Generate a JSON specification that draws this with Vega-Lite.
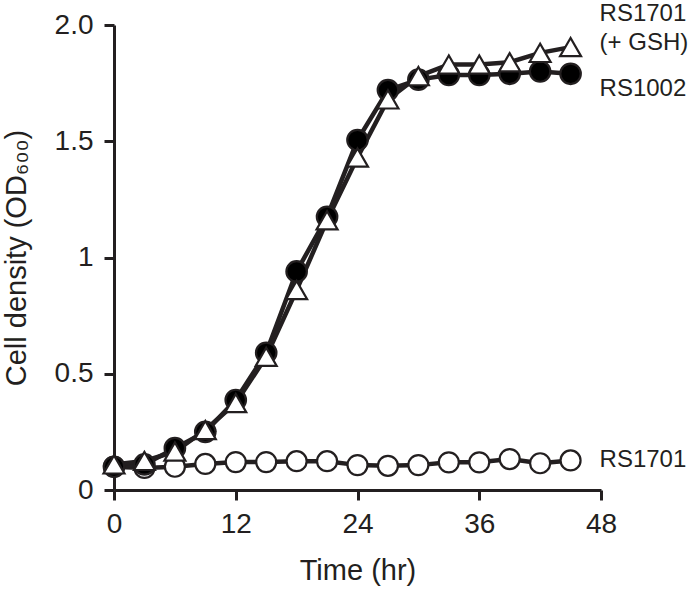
{
  "$schema": "https://vega.github.io/schema/vega-lite/v6.json",
  "width": 487,
  "height": 465,
  "autosize": {"type": "none"},
  "padding": {"left": 114, "top": 25, "right": 99, "bottom": 104},
  "background": "white",
  "config": {
    "view": {"stroke": null},
    "font": "Liberation Sans",
    "axis": {
      "domainColor": "#231f20",
      "domainWidth": 3,
      "tickColor": "#231f20",
      "tickWidth": 3,
      "tickSize": 10,
      "grid": false,
      "labelFlush": false,
      "labelOverlap": false,
      "labelColor": "#231f20",
      "labelFontSize": 28,
      "labelFont": "Liberation Sans",
      "titleColor": "#231f20",
      "titleFont": "Liberation Sans",
      "titleFontSize": 29,
      "titleFontWeight": "normal"
    }
  },
  "datasets": {
    "growth": [
      {"series": "RS1701", "time": 0, "od": 0.10},
      {"series": "RS1701", "time": 3, "od": 0.095},
      {"series": "RS1701", "time": 6, "od": 0.10},
      {"series": "RS1701", "time": 9, "od": 0.112},
      {"series": "RS1701", "time": 12, "od": 0.12},
      {"series": "RS1701", "time": 15, "od": 0.12},
      {"series": "RS1701", "time": 18, "od": 0.124},
      {"series": "RS1701", "time": 21, "od": 0.124},
      {"series": "RS1701", "time": 24, "od": 0.107},
      {"series": "RS1701", "time": 27, "od": 0.104},
      {"series": "RS1701", "time": 30, "od": 0.107},
      {"series": "RS1701", "time": 33, "od": 0.119},
      {"series": "RS1701", "time": 36, "od": 0.119},
      {"series": "RS1701", "time": 39, "od": 0.133},
      {"series": "RS1701", "time": 42, "od": 0.115},
      {"series": "RS1701", "time": 45, "od": 0.127},
      {"series": "RS1002", "time": 0, "od": 0.10},
      {"series": "RS1002", "time": 3, "od": 0.11},
      {"series": "RS1002", "time": 6, "od": 0.18},
      {"series": "RS1002", "time": 9, "od": 0.25},
      {"series": "RS1002", "time": 12, "od": 0.387},
      {"series": "RS1002", "time": 15, "od": 0.59},
      {"series": "RS1002", "time": 18, "od": 0.94},
      {"series": "RS1002", "time": 21, "od": 1.175},
      {"series": "RS1002", "time": 24, "od": 1.505},
      {"series": "RS1002", "time": 27, "od": 1.72},
      {"series": "RS1002", "time": 30, "od": 1.765},
      {"series": "RS1002", "time": 33, "od": 1.785},
      {"series": "RS1002", "time": 36, "od": 1.785},
      {"series": "RS1002", "time": 39, "od": 1.79},
      {"series": "RS1002", "time": 42, "od": 1.80},
      {"series": "RS1002", "time": 45, "od": 1.79},
      {"series": "RS1701 (+ GSH)", "time": 0, "od": 0.11},
      {"series": "RS1701 (+ GSH)", "time": 3, "od": 0.125},
      {"series": "RS1701 (+ GSH)", "time": 6, "od": 0.165},
      {"series": "RS1701 (+ GSH)", "time": 9, "od": 0.258},
      {"series": "RS1701 (+ GSH)", "time": 12, "od": 0.374},
      {"series": "RS1701 (+ GSH)", "time": 15, "od": 0.573},
      {"series": "RS1701 (+ GSH)", "time": 18, "od": 0.86},
      {"series": "RS1701 (+ GSH)", "time": 21, "od": 1.16},
      {"series": "RS1701 (+ GSH)", "time": 24, "od": 1.43},
      {"series": "RS1701 (+ GSH)", "time": 27, "od": 1.68},
      {"series": "RS1701 (+ GSH)", "time": 30, "od": 1.78},
      {"series": "RS1701 (+ GSH)", "time": 33, "od": 1.83},
      {"series": "RS1701 (+ GSH)", "time": 36, "od": 1.83},
      {"series": "RS1701 (+ GSH)", "time": 39, "od": 1.84},
      {"series": "RS1701 (+ GSH)", "time": 42, "od": 1.88},
      {"series": "RS1701 (+ GSH)", "time": 45, "od": 1.905}
    ],
    "labels": [
      {"text": "RS1701", "time": 45, "od": 2.048},
      {"text": "(+ GSH)", "time": 45, "od": 1.923},
      {"text": "RS1002", "time": 45, "od": 1.726},
      {"text": "RS1701", "time": 45, "od": 0.131}
    ]
  },
  "layer": [
    {
      "data": {"name": "growth"},
      "mark": {"type": "line", "stroke": "#231f20", "strokeWidth": 4.5, "clip": false},
      "encoding": {
        "x": {
          "field": "time", "type": "quantitative",
          "scale": {"domain": [0, 48], "nice": false, "zero": false},
          "axis": {"values": [0, 12, 24, 36, 48], "title": "Time (hr)", "labelPadding": 10, "titlePadding": 18}
        },
        "y": {
          "field": "od", "type": "quantitative",
          "scale": {"domain": [0, 2], "nice": false},
          "axis": {
            "values": [0, 0.5, 1, 1.5, 2],
            "labelExpr": "datum.value == 2 ? '2.0' : toString(datum.value)",
            "title": "Cell density (OD₆₀₀)",
            "labelPadding": 11,
            "titlePadding": 23
          }
        },
        "detail": {"field": "series"}
      }
    },
    {
      "data": {"name": "growth"},
      "mark": {"type": "point", "filled": false, "stroke": "#231f20", "strokeWidth": 2.2, "opacity": 1, "clip": false},
      "encoding": {
        "x": {"field": "time", "type": "quantitative"},
        "y": {"field": "od", "type": "quantitative"},
        "shape": {
          "field": "series", "type": "nominal",
          "scale": {"domain": ["RS1701", "RS1002", "RS1701 (+ GSH)"], "range": ["circle", "circle", "triangle-up"]},
          "legend": null
        },
        "fill": {
          "field": "series", "type": "nominal",
          "scale": {"domain": ["RS1701", "RS1002", "RS1701 (+ GSH)"], "range": ["#ffffff", "#000000", "#ffffff"]},
          "legend": null
        },
        "size": {
          "field": "series", "type": "nominal",
          "scale": {"domain": ["RS1701", "RS1002", "RS1701 (+ GSH)"], "range": [400, 440, 580]},
          "legend": null
        }
      }
    },
    {
      "data": {"name": "labels"},
      "mark": {"type": "text", "align": "left", "baseline": "middle", "dx": 29, "fontSize": 24, "font": "Liberation Sans", "color": "#231f20", "clip": false},
      "encoding": {
        "x": {"field": "time", "type": "quantitative"},
        "y": {"field": "od", "type": "quantitative"},
        "text": {"field": "text"}
      }
    }
  ]
}
